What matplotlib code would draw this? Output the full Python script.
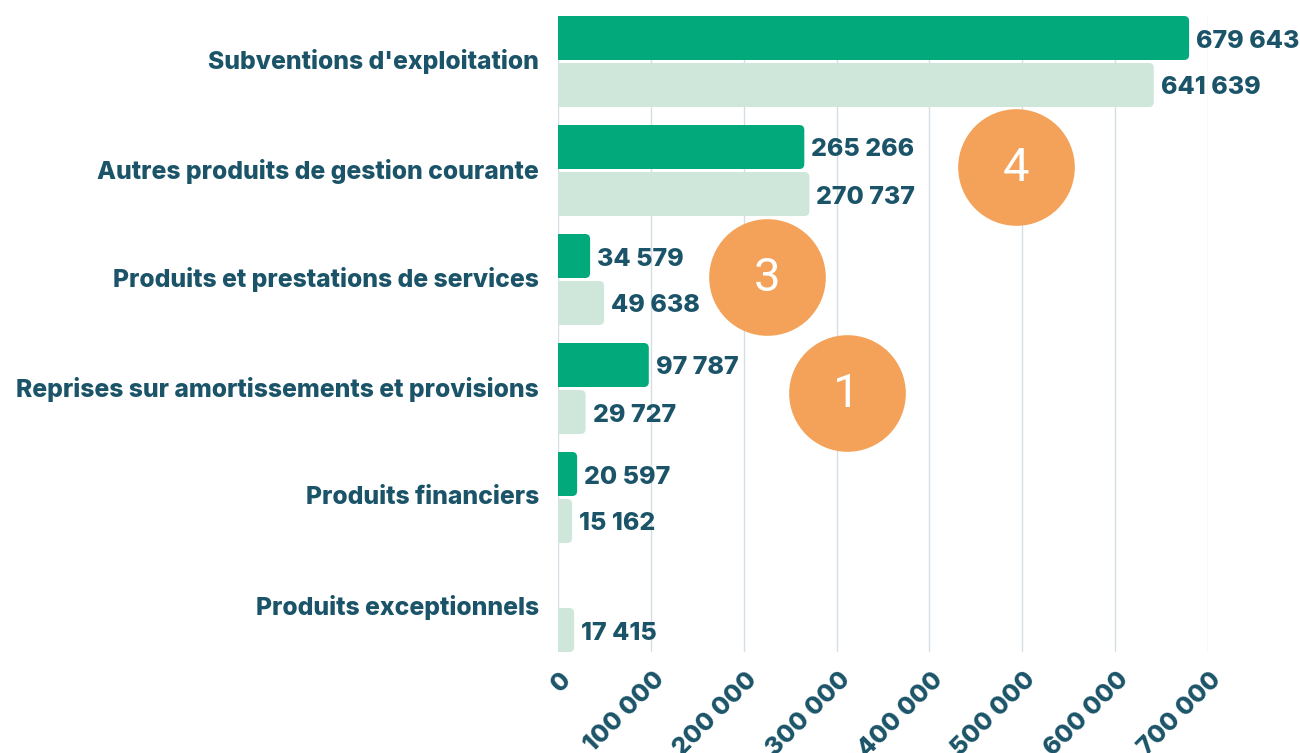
import matplotlib
matplotlib.use("Agg")
import matplotlib.pyplot as plt
from matplotlib.patches import FancyBboxPatch
from matplotlib.transforms import offset_copy

categories = ["Subventions d'exploitation", "Autres produits de gestion courante",
              "Produits et prestations de services", "Reprises sur amortissements et provisions",
              "Produits financiers", "Produits exceptionnels"]
series_a = [679643, 265266, 34579, 97787, 20597, 0]
series_b = [641639, 270737, 49638, 29727, 15162, 17415]
x_ticks = [0, 100000, 200000, 300000, 400000, 500000, 600000, 700000]
x_tick_labels = ["0", "100 000", "200 000", "300 000", "400 000", "500 000", "600 000", "700 000"]
markers_label = ["4", "3", "1"]
markers_x = [493000, 225000, 311000]
markers_y = [151, 261, 377]

TEXT = "#1B5468"
DARK = "#02A97A"
LIGHT = "#CFE7DA"
ORANGE = "#F4A259"
GRID = "#D3DEE5"

W, H = 1300, 753
fig = plt.figure(figsize=(13, 7.53), dpi=100)
ax_left, ax_right, ax_top, ax_bot = 558, 1208, 16, 652
ax = fig.add_axes([ax_left / W, 1 - ax_bot / H, (ax_right - ax_left) / W, (ax_bot - ax_top) / H])

pitch = 109
bh = 44
gap = 3
ylim_max = 5 * pitch + 2 * bh + gap
ax.set_xlim(0, 700000)
ax.set_ylim(ylim_max, 0)

fmt = lambda v: f"{v:,}".replace(",", " ")

px_x = 700000 / (ax_right - ax_left)  # data units per pixel in x
rs = 5  # rounding in px
FS = 18

for i, cat in enumerate(categories):
    y0 = i * pitch
    for j, (vals, col) in enumerate(((series_a, DARK), (series_b, LIGHT))):
        v = vals[i]
        yb = y0 + j * (bh + gap)
        if v > 0:
            p = FancyBboxPatch((-rs * px_x * 2, yb), v + rs * px_x * 2, bh,
                               boxstyle=f"round,pad=0,rounding_size={rs * px_x}",
                               mutation_aspect=1 / px_x, fc=col, ec="none", zorder=3)
            ax.add_patch(p)
            ax.text(v + 7 * px_x, yb + bh / 2 + 3, fmt(v), ha="left", va="center",
                    fontsize=FS, fontweight="heavy", color=TEXT, family="Inter",
                    clip_on=False, zorder=4)
    fig.text((ax_left - 19) / W, 1 - (ax_top + y0 + bh + 2) / H, cat, ha="right", va="center",
             fontsize=17.8, fontweight="heavy", color=TEXT, family="Inter")

for xt in x_ticks:
    ax.axvline(xt, color=GRID, lw=1, zorder=1)

ax.set_xticks(x_ticks)
ax.set_xticklabels([])
ax.tick_params(axis="x", length=0)
tick_trans = offset_copy(ax.get_xaxis_transform(), fig=fig, x=10, y=-24, units="dots")
for xt, lt in zip(x_ticks, x_tick_labels):
    ax.text(xt, 0, lt, transform=tick_trans, rotation=45, ha="right", va="center",
            rotation_mode="anchor", fontsize=FS, fontweight="heavy", color=TEXT,
            family="Inter", clip_on=False)
ax.set_yticks([])
for s in ax.spines.values():
    s.set_visible(False)

ax.plot(markers_x, markers_y, "o", ms=84, color=ORANGE, mec="none", zorder=5, clip_on=False)
for lx, ly, lt in zip(markers_x, markers_y, markers_label):
    ax.text(lx, ly + 1, lt, ha="center", va="center", fontsize=34, color="white",
            family="Roboto", fontweight="normal", zorder=6)

fig.savefig("out.png", dpi=100)
